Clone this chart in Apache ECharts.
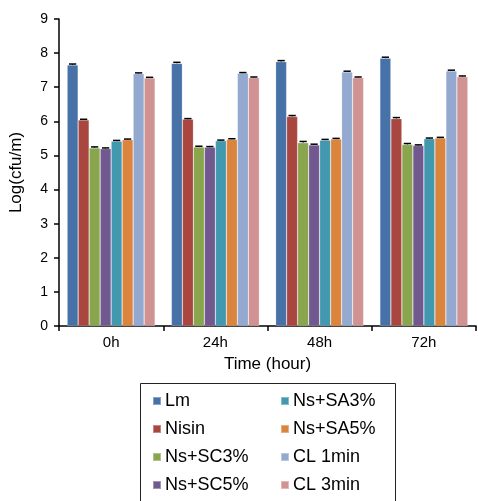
<!DOCTYPE html>
<html>
<head>
<meta charset="utf-8">
<style>html,body{margin:0;padding:0;background:#fff}#c{width:478px;height:501px}</style>
<script src="https://cdn.jsdelivr.net/npm/echarts@6/dist/echarts.min.js"></script>
</head>
<body>
<div id="c"></div>
<script>
const categories = ['0h', '24h', '48h', '72h'];
const seriesNames = ['Lm', 'Nisin', 'Ns+SC3%', 'Ns+SC5%', 'Ns+SA3%', 'Ns+SA5%', 'CL 1min', 'CL 3min'];
const lm    = [7.65, 7.70, 7.75, 7.85];
const nisin = [6.04, 6.06, 6.14, 6.08];
const sc3   = [5.22, 5.25, 5.37, 5.32];
const sc5   = [5.20, 5.24, 5.31, 5.29];
const sa3   = [5.42, 5.43, 5.45, 5.49];
const sa5   = [5.46, 5.47, 5.48, 5.51];
const cl1   = [7.40, 7.41, 7.45, 7.48];
const cl3   = [7.27, 7.28, 7.28, 7.31];
const errLm    = [0.03, 0.03, 0.03, 0.03];
const errNisin = [0.02, 0.02, 0.03, 0.03];
const errSc3   = [0.03, 0.02, 0.04, 0.03];
const errSc5   = [0.02, 0.02, 0.02, 0.02];
const errSa3   = [0.02, 0.02, 0.02, 0.02];
const errSa5   = [0.02, 0.02, 0.02, 0.02];
const errCl1   = [0.02, 0.02, 0.02, 0.02];
const errCl3   = [0.02, 0.02, 0.02, 0.02];
const yTicks = [0, 1, 2, 3, 4, 5, 6, 7, 8, 9];

const values = [lm, nisin, sc3, sc5, sa3, sa5, cl1, cl3];
const errors = [errLm, errNisin, errSc3, errSc5, errSa3, errSa5, errCl1, errCl3];
const colors = ['#4672a8', '#a8463f', '#89a54e', '#71588f', '#4198af', '#db843d', '#93a9cf', '#d19392'];
const catGap = 0.156;
const font = "'Liberation Sans', Arial, sans-serif";

const series = values.map((v, i) => ({
  name: seriesNames[i],
  type: 'bar',
  data: v,
  barGap: '0%',
  barCategoryGap: (catGap * 100) + '%',
  itemStyle: { color: colors[i], borderColor: 'rgba(255,255,255,0.35)', borderWidth: 0.6 },
  emphasis: { disabled: true }
}));

values.forEach((v, i) => {
  series.push({
    type: 'custom',
    silent: true,
    z: 10,
    data: v.map((val, j) => [j, val, errors[i][j]]),
    renderItem: function (params, api) {
      const x = api.value(0);
      const val = api.value(1);
      const e = api.value(2);
      const bandW = api.size([1, 0])[0];
      const bw = bandW * (1 - catGap) / 8;
      const c = api.coord([x, val]);
      const cx = c[0] + (i - 3.5) * bw;
      const top = api.coord([x, val + e])[1];
      const half = bw * 0.33;
      const st = { stroke: '#000', lineWidth: 1.5 };
      return {
        type: 'group',
        children: [
          { type: 'line', shape: { x1: cx, y1: c[1], x2: cx, y2: top }, style: { stroke: '#333', lineWidth: 1 } },
          { type: 'line', shape: { x1: cx - half, y1: top, x2: cx + half, y2: top }, style: st }
        ]
      };
    }
  });
});

const legendCommon = {
  orient: 'vertical',
  icon: 'rect',
  itemWidth: 8,
  itemHeight: 8,
  itemGap: 10,
  padding: 0,
  top: 392,
  selectedMode: false,
  textStyle: { fontFamily: font, fontSize: 18, color: '#000', lineHeight: 18, padding: [0, 0, 0, -1] }
};

const chart = echarts.init(document.getElementById('c'));
chart.setOption({
  animation: false,
  backgroundColor: '#fff',
  textStyle: { fontFamily: font },
  grid: { left: 54, top: 19, right: 2, bottom: 175 },
  xAxis: {
    type: 'category',
    data: categories,
    name: 'Time (hour)',
    nameLocation: 'middle',
    nameGap: 30,
    nameTextStyle: { fontFamily: font, fontSize: 17, color: '#000' },
    axisLine: { lineStyle: { color: '#000', width: 1.5 } },
    axisTick: { show: true, length: 5, lineStyle: { color: '#000', width: 1.5 } },
    axisLabel: { fontFamily: font, fontSize: 15, color: '#000', margin: 9 }
  },
  yAxis: {
    type: 'value',
    min: yTicks[0],
    max: yTicks[yTicks.length - 1],
    interval: 1,
    name: 'Log(cfu/m)',
    nameLocation: 'middle',
    nameGap: 34,
    nameTextStyle: { fontFamily: font, fontSize: 17, color: '#000' },
    axisLine: { show: true, lineStyle: { color: '#000', width: 1.5 } },
    axisTick: { show: true, length: 5, lineStyle: { color: '#000', width: 1.5 } },
    axisLabel: { fontFamily: font, fontSize: 14, color: '#000', margin: 11 },
    splitLine: { show: false }
  },
  legend: [
    Object.assign({}, legendCommon, { left: 152, data: seriesNames.slice(0, 4) }),
    Object.assign({}, legendCommon, { left: 280, data: seriesNames.slice(4, 8) })
  ],
  graphic: [{
    type: 'rect',
    silent: true,
    shape: { x: 140.5, y: 383.5, width: 255, height: 130 },
    style: { fill: 'none', stroke: '#222', lineWidth: 1 }
  }],
  series: series
});
</script>
</body>
</html>
